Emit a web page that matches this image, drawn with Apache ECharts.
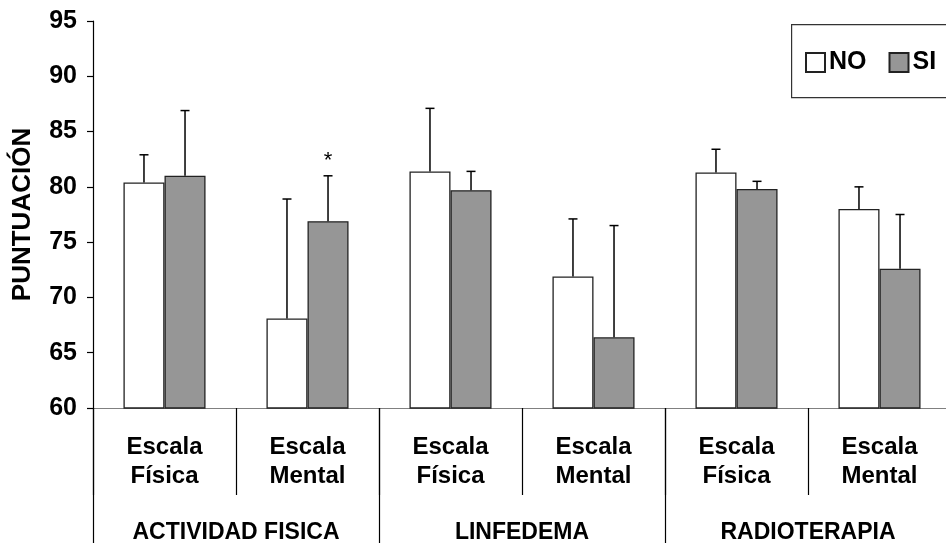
<!DOCTYPE html>
<html>
<head>
<meta charset="utf-8">
<script src="https://cdn.jsdelivr.net/npm/echarts@6/dist/echarts.min.js"></script>
<style>html,body{margin:0;padding:0;background:#fff}#c{width:946px;height:543px}</style>
</head>
<body>
<div id="c"></div>
<script>
// ---- data ----
const categories = ['Escala\nFísica', 'Escala\nMental', 'Escala\nFísica', 'Escala\nMental', 'Escala\nFísica', 'Escala\nMental'];
const groups = ['ACTIVIDAD FISICA', 'LINFEDEMA', 'RADIOTERAPIA'];
const seriesNames = ['NO', 'SI'];
const noValues = [80.4, 68.1, 81.4, 71.9, 81.3, 78.0];
const noSD     = [2.5, 10.8, 5.7, 5.2, 2.1, 2.0];
const siValues = [81.0, 76.9, 79.7, 66.4, 79.8, 72.6];
const siSD     = [5.9, 4.1, 1.7, 10.1, 0.7, 4.9];
const significance = ['', '*', '', '', '', ''];
const yTicks = { min: 60, max: 95, interval: 5 };
const axisTitle = 'PUNTUACIÓN';

// ---- chart ----
const FONT = "'Liberation Sans', Arial, sans-serif";
const BAR_RATIO = 0.287;
const chart = echarts.init(document.getElementById('c'), null, { renderer: 'canvas' });

function errData(values, sd, marks) {
  return values.map((v, i) => [i, v, v + sd[i], marks ? marks[i] : '']);
}
function makeErrRender(side) {
  return function (params, api) {
    const idx = api.value(0);
    const base = api.coord([idx, api.value(1)]);
    const top = api.coord([idx, api.value(2)]);
    const band = api.size([1, 0])[0];
    const x = base[0] + side * band * BAR_RATIO / 2;
    const cap = 4.5;
    const children = [
      { type: 'line', shape: { x1: x, y1: base[1], x2: x, y2: top[1] }, style: { stroke: '#000', lineWidth: 1.5 } },
      { type: 'line', shape: { x1: x - cap, y1: top[1], x2: x + cap, y2: top[1] }, style: { stroke: '#000', lineWidth: 1.5 } }
    ];
    const mark = api.value(3);
    if (mark) {
      children.push({ type: 'text', style: { text: String(mark), x: x, y: top[1] - 4, align: 'center', verticalAlign: 'bottom', font: '22px ' + FONT, fill: '#000' } });
    }
    return { type: 'group', children: children };
  };
}

const option = {
  animation: false,
  backgroundColor: '#fff',
  textStyle: { fontFamily: FONT },
  grid: { left: 93, top: 21, width: 858, bottom: 135, containLabel: false, outerBoundsMode: 'none' },
  graphic: [{
    type: 'rect', left: 791, top: 24, z: 0,
    shape: { width: 200, height: 73 },
    style: { fill: '#fff', stroke: '#333', lineWidth: 1.2 }
  }],
  legend: {
    data: seriesNames, left: 800, top: 45, z: 10,
    icon: 'rect', itemWidth: 19, itemHeight: 19, itemGap: 22,
    textStyle: { fontFamily: FONT, fontWeight: 'bold', fontSize: 25, color: '#000', padding: [0, 0, 0, -1] }
  },
  xAxis: [{
    type: 'category', data: categories, position: 'bottom',
    axisLine: { show: true, lineStyle: { color: '#808080', width: 1.2 } },
    axisTick: { show: true, interval: 0, length: 87, lineStyle: { color: '#000', width: 1.2 } },
    axisLabel: { interval: 0, margin: 25, color: '#000', fontFamily: FONT, fontWeight: 'bold', fontSize: 24, lineHeight: 29, align: 'center' },
    splitLine: { show: false }
  }, {
    type: 'category', data: groups, position: 'bottom',
    axisLine: { show: false },
    axisTick: { show: true, interval: 0, length: 135, lineStyle: { color: '#000', width: 1.2 } },
    axisLabel: { interval: 0, margin: 113, color: '#000', fontFamily: FONT, fontWeight: 'bold', fontSize: 23 },
    splitLine: { show: false }
  }],
  yAxis: {
    type: 'value', min: yTicks.min, max: yTicks.max, interval: yTicks.interval,
    name: axisTitle, nameLocation: 'middle', nameGap: 57, nameRotate: 90,
    nameTextStyle: { fontFamily: FONT, fontWeight: 'bold', fontSize: 26, color: '#000' },
    axisLine: { show: true, lineStyle: { color: '#000', width: 1.2 } },
    axisTick: { show: true, inside: false, length: 6, lineStyle: { color: '#000', width: 1.2 } },
    axisLabel: { margin: 16, color: '#000', fontFamily: FONT, fontWeight: 'bold', fontSize: 25 },
    splitLine: { show: false }
  },
  series: [{
    name: seriesNames[0], type: 'bar', xAxisIndex: 0, data: noValues,
    barWidth: (BAR_RATIO * 100) + '%', barGap: '0%',
    itemStyle: { color: '#ffffff', borderColor: '#222', borderWidth: 1.3 }
  }, {
    name: seriesNames[1], type: 'bar', xAxisIndex: 0, data: siValues,
    barWidth: (BAR_RATIO * 100) + '%', barGap: '0%',
    itemStyle: { color: '#969696', borderColor: '#222', borderWidth: 1.3 }
  }, {
    name: 'errNO', type: 'custom', xAxisIndex: 0, z: 5,
    renderItem: makeErrRender(-1), data: errData(noValues, noSD),
    encode: { x: 0, y: [1, 2] }
  }, {
    name: 'errSI', type: 'custom', xAxisIndex: 0, z: 5,
    renderItem: makeErrRender(1), data: errData(siValues, siSD, significance),
    encode: { x: 0, y: [1, 2] }
  }]
};
chart.setOption(option);
</script>
</body>
</html>
